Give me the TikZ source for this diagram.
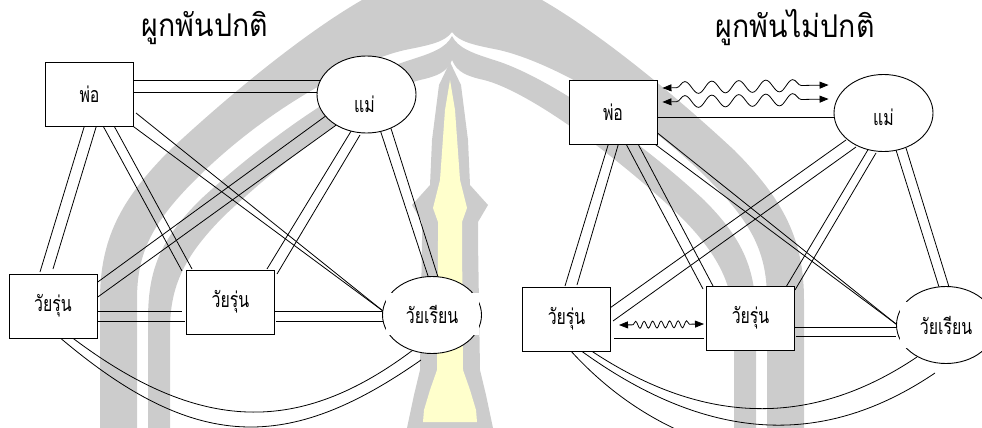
\documentclass[tikz,border=0pt]{standalone}
\usepackage{fontspec}
\newfontfamily\thaiface[Script=Thai]{Loma}
\usetikzlibrary{shapes.geometric,calc,decorations.pathmorphing,arrows.meta}
\pgfdeclarelayer{emblem}
\pgfdeclarelayer{links}
\pgfsetlayers{emblem,links,main}
\definecolor{embgrey}{RGB}{204,204,204}
\definecolor{embyellow}{RGB}{255,255,204}
\newcommand\headface{\thaiface\fontsize{28.5}{30}\selectfont}
\newcommand\labface{\thaiface\fontsize{16.5}{18}\selectfont}
% tall, narrow setting of the Thai labels
\newcommand\tall[1]{\scalebox{0.96}[1.3]{#1}}
\begin{document}
\begin{tikzpicture}[x=1pt,y=-1pt,
  link/.style={line width=0.8pt},
  box/.style={draw, line width=0.9pt, fill=white, minimum width=88pt, minimum height=64pt, inner sep=0pt, font=\labface},
  oval/.style={draw, ellipse, line width=0.9pt, fill=white, minimum width=99pt, minimum height=77pt, inner sep=0pt, font=\labface},
  tag/.style={fill=white, minimum width=93pt, minimum height=42pt, inner sep=0pt, font=\labface},
  head/.style={font=\headface, inner sep=0pt},
  tipped/.style={{Triangle[length=9pt,width=7pt]}-{Triangle[length=9pt,width=7pt]}},
  wavy/.style={link, tipped, decorate, decoration={snake, amplitude=6pt, segment length=27pt, pre length=14pt, post length=14pt}},
  zigzag/.style={link, tipped, decorate, decoration={snake, amplitude=3.5pt, segment length=8.5pt, pre length=14pt, post length=14pt}}
]
\useasboundingbox (0,0) rectangle (982,428);

% ---------- emblem in the background ----------
\begin{pgfonlayer}{emblem}
  % outer arch band
  \fill[embgrey] (100,460) -- (100,300) .. controls (100,240) and (120,200) .. (170,150)
    .. controls (240,85) and (310,30) .. (362,0) -- (362,-30) -- (542,-30) -- (542,0)
    .. controls (594,30) and (664,85) .. (734,150)
    .. controls (784,200) and (804,240) .. (804,300) -- (804,460) -- (767,460) -- (767,300)
    .. controls (767,255) and (754,225) .. (709,180)
    .. controls (634,105) and (544,60) .. (499,50)
    .. controls (474,45) and (459,42) .. (452,32)
    .. controls (445,42) and (430,45) .. (405,50)
    .. controls (360,60) and (270,105) .. (195,180)
    .. controls (150,225) and (137,255) .. (137,300) -- (137,460) -- cycle;
  % inner arch band
  \fill[embgrey] (148,460) -- (148,320) .. controls (148,270) and (160,240) .. (200,200)
    .. controls (270,135) and (360,75) .. (410,60)
    .. controls (432,53) and (446,48) .. (452,36)
    .. controls (458,48) and (472,53) .. (494,60)
    .. controls (544,75) and (634,135) .. (704,200)
    .. controls (744,240) and (756,270) .. (756,320) -- (756,460) -- (734,460) -- (734,330)
    .. controls (734,285) and (719,255) .. (679,215)
    .. controls (604,145) and (524,90) .. (484,80)
    .. controls (466,76) and (457,72) .. (452,60)
    .. controls (447,72) and (438,76) .. (420,80)
    .. controls (380,90) and (300,145) .. (225,215)
    .. controls (185,255) and (170,285) .. (170,330) -- (170,460) -- cycle;
  % candle
  \fill[embgrey] (450,62) -- (461,85) -- (468,140) -- (470,185) -- (488,205) -- (478,222)
    -- (478,240) -- (480,370) -- (486,395) -- (493,428) -- (493,440) -- (407,440)
    -- (407,428) -- (414,395) -- (420,370) -- (422,240) -- (422,222) -- (412,205)
    -- (430,185) -- (432,140) -- (439,85) -- cycle;
  \fill[embyellow] (450,80) -- (455,110) -- (460,180) -- (467,208) -- (462,222)
    -- (462,240) -- (463,370) -- (470,390) -- (476,410) -- (477,422) -- (423,422)
    -- (424,410) -- (430,390) -- (437,370) -- (438,240) -- (438,222) -- (433,208)
    -- (440,180) -- (445,110) -- cycle;
\end{pgfonlayer}

% ---------- titles ----------
\node[head] (h1) at (205,28) {\scalebox{1}[1.1]{ผูกพันปกติ}};
\node[head] (h2) at (795,28) {\scalebox{1}[1.1]{ผูกพันไม่ปกติ}};

% ---------- left family: all bonds double ----------
\node[box]  (P1) at (89.5,94) {\tall{พ่อ}};
\node[oval] (M1) at (366.5,94.5) {};
\node[font=\labface] at ($(M1)+(-2,10)$) {\tall{แม่}};
\node[box]  (T1a) at (53,306) {\tall{วัยรุ่น}};
\node[box]  (T1b) at (230.5,302) {\tall{วัยรุ่น}};
\node[oval] (S1) at (432,315) {};
\node[tag]  at ($(S1)+(0,-1)$) {\tall{วัยเรียน}};

\begin{pgfonlayer}{links}
  % father - mother
  \draw[link] ($(P1)+(40,-14)$) -- ($(M1)+(-36,-14.5)$);
  \draw[link] ($(P1)+(40,-2)$)  -- ($(M1)+(-36,-2.5)$);
  % father - teen (left)
  \draw[link] ($(P1)+(-4.5,30)$) -- ($(T1a)+(-13,-34)$);
  \draw[link] ($(P1)+(7.5,30)$)  -- ($(T1a)+(0,-37)$);
  % father - teen (middle)
  \draw[link] ($(P1)+(12.5,30)$) -- ($(T1b)+(-48.5,-31)$);
  \draw[link] ($(P1)+(23.5,30)$) -- ($(T1b)+(-38.5,-33)$);
  % father - pupil
  \draw[link] ($(P1)+(40.5,30)$) -- ($(S1)+(-49,-4)$);
  \draw[link] ($(P1)+(46.5,19)$) -- ($(S1)+(-49,-4)$);
  % mother - teen (left)
  \draw[link] ($(M1)+(-36,18)$)   -- ($(T1a)+(42,-22)$);
  \draw[link] ($(M1)+(-24,26)$)   -- ($(T1a)+(42,-7)$);
  % mother - teen (middle)
  \draw[link] ($(M1)+(-13.5,33.5)$) -- ($(T1b)+(36.5,-33)$);
  \draw[link] ($(M1)+(-6.5,40.5)$)  -- ($(T1b)+(46.5,-28)$);
  % mother - pupil
  \draw[link] ($(M1)+(13.5,35)$) -- ($(S1)+(-4,-39)$);
  \draw[link] ($(M1)+(24.5,34)$) -- ($(S1)+(6,-38)$);
  % teen - teen
  \draw[link] ($(T1a)+(42,5)$)  -- ($(T1b)+(-48.5,9)$);
  \draw[link] ($(T1a)+(42,15)$) -- ($(T1b)+(-45.5,19)$);
  % teen (middle) - pupil
  \draw[link] ($(T1b)+(42,9)$)  -- ($(S1)+(-49,-4)$);
  \draw[link] ($(T1b)+(45,19)$) -- ($(S1)+(-49,6)$);
  % teen (left) - pupil, two arcs
  \draw[link] ($(T1a)+(17,30)$) .. controls ($(T1a)+(147,129)$) and ($(S1)+(-132,120)$) .. ($(S1)+(-19,35)$);
  \draw[link] ($(T1a)+(5,30)$)  .. controls ($(T1a)+(142,147)$) and ($(S1)+(-144,138)$) .. ($(S1)+(-11,45)$);
\end{pgfonlayer}

% ---------- right family ----------
\node[box]  (P2) at (613,112) {\tall{พ่อ}};
\node[oval] (M2) at (883.5,113) {};
\node[font=\labface] at ($(M2)+(0,4)$) {\tall{แม่}};
\node[box]  (T2a) at (566.5,319) {\tall{วัยรุ่น}};
\node[box]  (T2b) at (750.5,318) {\tall{วัยรุ่น}};
\node[oval] (S2) at (946,325) {};
\node[tag, minimum height=46pt] at (S2) {\tall{วัยเรียน}};

\coordinate (w1a) at ($(P2.east)+(5,-24)$);
\coordinate (w1b) at ($(M2.west)+(-5,-28)$);
\coordinate (w2a) at ($(P2.east)+(5,-10)$);
\coordinate (w2b) at ($(M2.west)+(-5,-14)$);
\coordinate (w3a) at ($(T2a)+(52.5,6)$);
\coordinate (w3b) at ($(T2b)+(-46.5,6)$);

\draw[wavy] (w1a) -- (w1b);
\draw[wavy] (w2a) -- (w2b);
\draw[zigzag] (w3a) -- (w3b);

\begin{pgfonlayer}{links}
  % father - mother, single
  \draw[link] ($(P2)+(30,5)$) -- ($(M2)+(-30,4)$);
  % father - teen (left)
  \draw[link] ($(P2)+(-4,30)$) -- ($(T2a)+(-1.5,-33)$);
  \draw[link] ($(P2)+(6,30)$)  -- ($(T2a)+(10.5,-34)$);
  % father - teen (middle)
  \draw[link] ($(P2)+(12,30)$) -- ($(T2b)+(-47.5,-29)$);
  \draw[link] ($(P2)+(24,30)$) -- ($(T2b)+(-37.5,-32)$);
  % father - pupil
  \draw[link] ($(P2)+(42,19)$) -- ($(S2)+(-50,-1)$);
  \draw[link] ($(P2)+(39,30)$) -- ($(S2)+(-50,-1)$);
  % mother - teen (left)
  \draw[link] ($(M2)+(-37.5,27)$) -- ($(T2a)+(42,-10)$);
  \draw[link] ($(M2)+(-27.5,34)$) -- ($(T2a)+(46.5,2)$);
  % mother - teen (middle)
  \draw[link] ($(M2)+(-14.5,35)$) -- ($(T2b)+(35.5,-31)$);
  \draw[link] ($(M2)+(-7.5,40)$)  -- ($(T2b)+(44.5,-28)$);
  % mother - pupil
  \draw[link] ($(M2)+(12.5,37)$) -- ($(S2)+(-7,-38)$);
  \draw[link] ($(M2)+(22.5,35)$) -- ($(S2)+(3,-38)$);
  % teen - teen, single
  \draw[link] ($(T2a)+(47.5,19)$) -- ($(T2b)+(-46.5,20)$);
  % teen (middle) - pupil
  \draw[link] ($(T2b)+(42,9)$)  -- ($(S2)+(-50,2)$);
  \draw[link] ($(T2b)+(45,18)$) -- ($(S2)+(-50,11)$);
  % teen (left) - pupil, three arcs
  \draw[link] ($(T2a)+(23.5,31)$) .. controls ($(T2a)+(138.5,108)$) and ($(S2)+(-133,102)$) .. ($(S2)+(-29,32)$);
  \draw[link] ($(T2a)+(13.5,31)$) .. controls ($(T2a)+(145.5,127)$) and ($(S2)+(-119,121)$) .. ($(S2)+(-11,48)$);
  \draw[link] ($(T2a)+(3.5,31)$)  .. controls ($(T2a)+(120,160)$) and ($(S2)+(-100,150)$) .. ($(S2)+(14,115)$);
\end{pgfonlayer}
\end{tikzpicture}
\end{document}
